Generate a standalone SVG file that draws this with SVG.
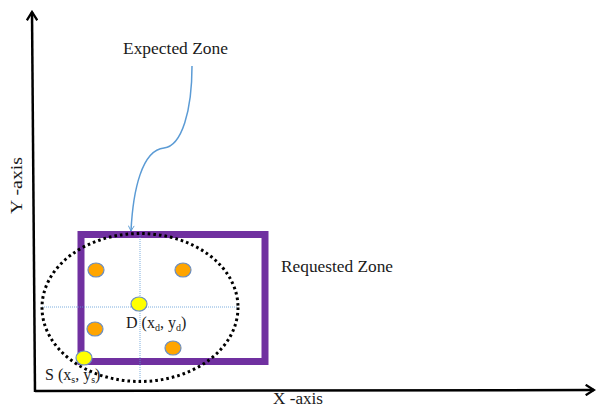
<svg xmlns="http://www.w3.org/2000/svg" width="598" height="409" viewBox="0 0 598 409">
<style>
text{font-family:"Liberation Serif","Times New Roman","DejaVu Serif",serif;font-size:16px;fill:#1a1a1a}
.axis{stroke:#000;stroke-width:2.5;fill:none}
.dot-o{fill:#FFA500;stroke:#6C8EBF;stroke-width:1.2}
.dot-y{fill:#FFFF00;stroke:#6C8EBF;stroke-width:1.2}
</style>
<defs>
<marker id="axArrow" viewBox="0 0 12 12" refX="10" refY="6" markerWidth="5" markerHeight="5" orient="auto" markerUnits="strokeWidth">
<path d="M2,1 L10,6 L2,11" fill="none" stroke="#000" stroke-width="2.2"/>
</marker>
<marker id="blueArrow" viewBox="0 0 12 12" refX="10" refY="6" markerWidth="7" markerHeight="7" orient="auto" markerUnits="userSpaceOnUse">
<path d="M1,1 L10,6 L1,11" fill="none" stroke="#5B9BD5" stroke-width="1.6"/>
</marker>
</defs>
<rect width="598" height="409" fill="#fff"/>
<g id="connectors">
<line class="axis" x1="35" y1="392" x2="32" y2="12" marker-end="url(#axArrow)"/>
<line class="axis" x1="35" y1="391" x2="594" y2="390" marker-end="url(#axArrow)"/>
<path d="M192,66 C192,110 182,146 164,148 C142,150 133,190 131,231" fill="none" stroke="#5B9BD5" stroke-width="1.5" marker-end="url(#blueArrow)"/>
</g>
<g id="requested-zone">
<rect x="81" y="234.5" width="184" height="127" fill="none" stroke="#7030A0" stroke-width="7"/>
<text font-family="Liberation Serif, serif" x="281" y="272" textLength="112" lengthAdjust="spacingAndGlyphs">Requested Zone</text>
</g>
<g id="crosshair">
<line x1="140" y1="235" x2="140" y2="381" stroke="#5B9BD5" stroke-width="0.8" stroke-dasharray="1,1"/>
<line x1="42" y1="307" x2="238" y2="307" stroke="#5B9BD5" stroke-width="0.8" stroke-dasharray="1,1"/>
</g>
<g id="expected-zone">
<ellipse cx="140" cy="307.5" rx="98" ry="74" fill="none" stroke="#000" stroke-width="3" stroke-dasharray="2.6,3"/>
<text font-family="Liberation Serif, serif" x="123" y="54" textLength="105" lengthAdjust="spacingAndGlyphs">Expected Zone</text>
</g>
<g id="nodes">
<ellipse class="dot-o" cx="96" cy="270" rx="8" ry="7"/>
<ellipse class="dot-o" cx="183" cy="270" rx="8" ry="7"/>
<ellipse class="dot-o" cx="95" cy="329" rx="8" ry="7"/>
<ellipse class="dot-o" cx="173" cy="348" rx="8" ry="7"/>
</g>
<g id="node-D">
<ellipse class="dot-y" cx="139" cy="304" rx="8" ry="7"/>
<text font-family="Liberation Serif, serif" x="126" y="328">D (x<tspan font-size="10" dy="3">d</tspan><tspan dy="-3">, y</tspan><tspan font-size="10" dy="3">d</tspan><tspan dy="-3">)</tspan></text>
</g>
<g id="node-S">
<ellipse class="dot-y" cx="84" cy="358" rx="8" ry="7"/>
<text font-family="Liberation Serif, serif" x="45" y="380">S (x<tspan font-size="10" dy="3">s</tspan><tspan dy="-3">, y</tspan><tspan font-size="10" dy="3">s</tspan><tspan dy="-3">)</tspan></text>
</g>
<g id="axis-labels">
<text font-family="Liberation Serif, serif" x="273" y="404" textLength="50" lengthAdjust="spacingAndGlyphs">X -axis</text>
<text font-family="Liberation Serif, serif" transform="translate(22,214) rotate(-90)" textLength="57" lengthAdjust="spacingAndGlyphs">Y -axis</text>
</g>
</svg>
